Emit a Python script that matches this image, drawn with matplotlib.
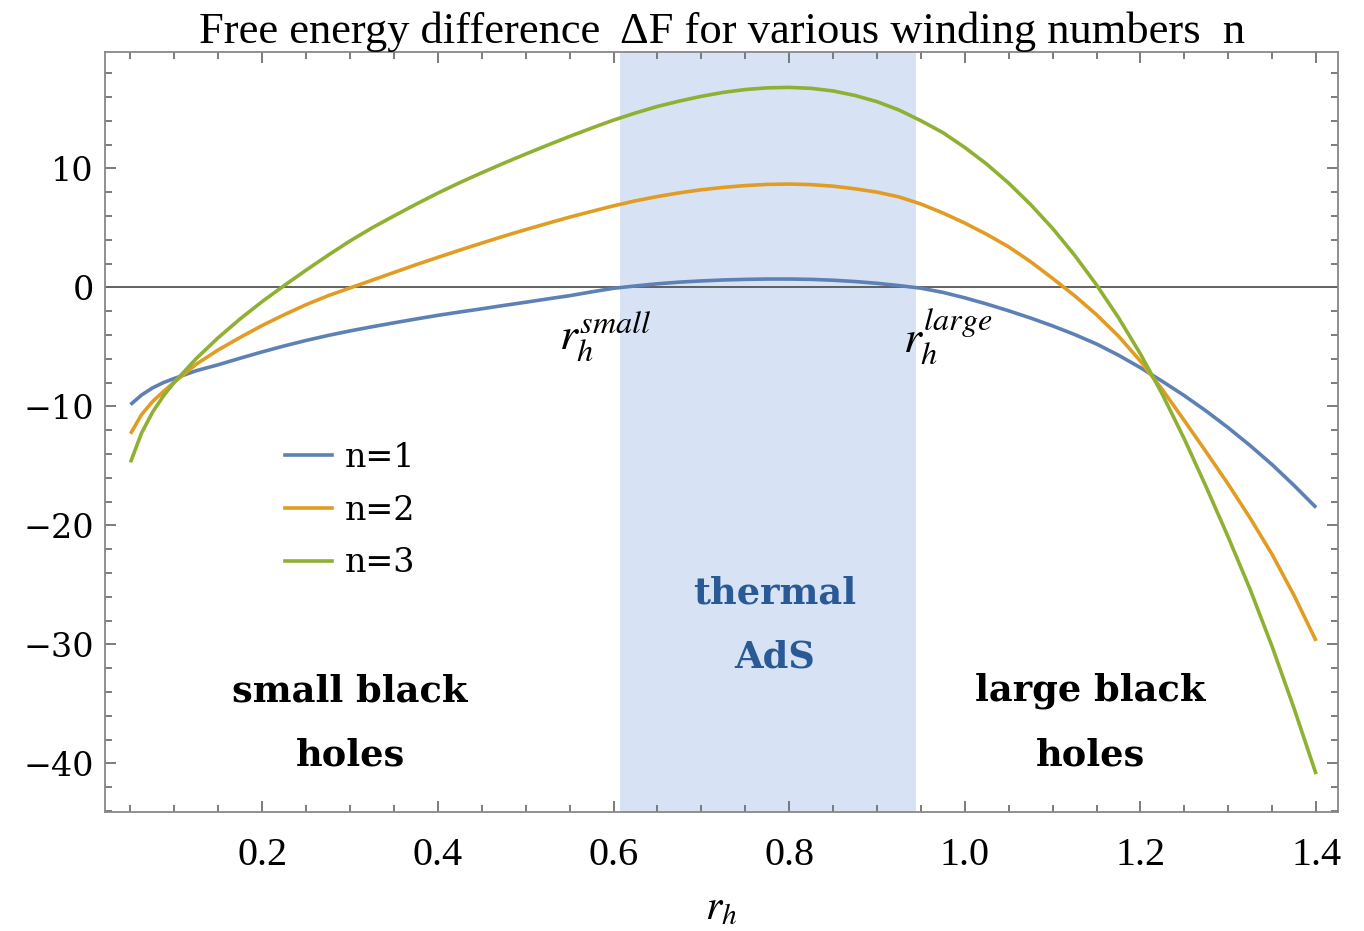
import matplotlib
matplotlib.use("Agg")
import matplotlib.pyplot as plt
from matplotlib.ticker import MultipleLocator
from matplotlib.lines import Line2D

# values
r_h = [0.05, 0.0625, 0.075, 0.0875, 0.10, 0.125, 0.15, 0.175, 0.20, 0.225,
       0.25, 0.275, 0.30, 0.325, 0.35, 0.375, 0.40, 0.425, 0.45, 0.475,
       0.50, 0.525, 0.55, 0.575, 0.60, 0.625, 0.65, 0.675, 0.70, 0.725,
       0.75, 0.775, 0.80, 0.825, 0.85, 0.875, 0.90, 0.925, 0.95, 0.975,
       1.00, 1.025, 1.05, 1.075, 1.10, 1.125, 1.15, 1.175, 1.20, 1.225,
       1.25, 1.275, 1.30, 1.325, 1.35, 1.375, 1.40]
dF_n1 = [-9.85, -9.05, -8.45, -8.0, -7.65, -7.0, -6.5, -5.95, -5.42, -4.92,
         -4.46, -4.04, -3.66, -3.31, -2.98, -2.66, -2.35, -2.07, -1.8, -1.52,
         -1.25, -0.97, -0.7, -0.38, -0.08, 0.12, 0.3, 0.44, 0.54, 0.62,
         0.67, 0.7, 0.7, 0.67, 0.6, 0.49, 0.34, 0.15, -0.07, -0.42,
         -0.88, -1.4, -1.97, -2.58, -3.24, -3.96, -4.76, -5.7, -6.75, -7.9,
         -9.1, -10.4, -11.8, -13.3, -14.9, -16.65, -18.5]
dF_n2 = [-12.3, -10.7, -9.6, -8.75, -7.95, -6.45, -5.25, -4.2, -3.2, -2.3,
         -1.45, -0.7, -0.05, 0.6, 1.25, 1.9, 2.52, 3.13, 3.72, 4.3,
         4.85, 5.38, 5.9, 6.38, 6.85, 7.27, 7.63, 7.94, 8.2, 8.4,
         8.55, 8.65, 8.68, 8.63, 8.5, 8.28, 8.0, 7.6, 7.0, 6.25,
         5.4, 4.45, 3.4, 2.15, 0.75, -0.7, -2.3, -4.1, -6.2, -8.6,
         -11.2, -13.85, -16.55, -19.4, -22.45, -25.9, -29.7]
dF_n3 = [-14.7, -12.25, -10.5, -9.12, -7.97, -5.97, -4.22, -2.64, -1.19, 0.15,
         1.45, 2.7, 3.9, 5.0, 6.0, 6.98, 7.92, 8.8, 9.63, 10.43,
         11.2, 11.95, 12.68, 13.38, 14.05, 14.65, 15.2, 15.65, 16.05, 16.38,
         16.62, 16.76, 16.8, 16.72, 16.5, 16.12, 15.6, 14.9, 14.0, 13.0,
         11.75, 10.35, 8.75, 6.95, 4.95, 2.7, 0.2, -2.55, -5.6, -9.0,
         -12.75, -16.8, -21.0, -25.4, -30.2, -35.4, -40.9]
labels = ["n=1", "n=2", "n=3"]
colors = ["#5E81B5", "#E19C24", "#8FB032"]
r_small, r_large = 0.607, 0.944

plt.rcParams['font.family'] = 'DejaVu Serif'
plt.rcParams['mathtext.fontset'] = 'stix'

fig = plt.figure(figsize=(13.64, 9.31), dpi=100)
ax = fig.add_axes([0.077, 0.1275, 0.904, 0.8170])

ax.axvspan(r_small, r_large, color='#D7E3F4', lw=0, zorder=0)
ax.axhline(0, color='#555555', lw=1.3, zorder=1)

for ys, c in zip([dF_n1, dF_n2, dF_n3], colors):
    ax.plot(r_h, ys, color=c, lw=2.6, solid_capstyle='butt', zorder=3)

ax.set_xlim(0.021, 1.425)
ax.set_ylim(-44.1, 19.8)

ax.xaxis.set_major_locator(MultipleLocator(0.2))
ax.xaxis.set_minor_locator(MultipleLocator(0.05))
ax.yaxis.set_major_locator(MultipleLocator(10))
ax.yaxis.set_minor_locator(MultipleLocator(2))
ax.tick_params(which='both', direction='in', top=True, right=True, color='#666666', width=1.2)
ax.tick_params(which='major', length=8)
ax.tick_params(which='minor', length=5)
ax.tick_params(axis='x', which='major', pad=18)
ax.tick_params(axis='y', which='major', pad=8, labelsize=24)
ax.set_xticks([0.2, 0.4, 0.6, 0.8, 1.0, 1.2, 1.4])
ax.set_xticklabels(["0.2", "0.4", "0.6", "0.8", "1.0", "1.2", "1.4"],
                   family='Liberation Serif', fontsize=29)
for s in ax.spines.values():
    s.set_color('#888888')
    s.set_linewidth(1.3)

ax.set_title("Free energy difference  \u0394F for various winding numbers  n",
             family='Liberation Serif', fontsize=32, pad=5)
ax.set_xlabel(r'$r_h$', fontsize=30, labelpad=9)

ax.text(0.59, -4.2, r'$r_h^{small}$', fontsize=33, ha='center', va='center')
ax.text(0.98, -4.2, r'$r_h^{large}$', fontsize=33, ha='center', va='center')

ax.text(0.784, -28.4, "thermal\nAdS", color='#2A5A96', fontsize=26.5, weight='bold',
        ha='center', va='center', linespacing=2.0)
ax.text(0.30, -36.6, "small black\nholes", fontsize=26.5, weight='bold',
        ha='center', va='center', linespacing=2.0)
ax.text(1.143, -36.6, "large black\nholes", fontsize=26.5, weight='bold',
        ha='center', va='center', linespacing=2.0)

handles = [Line2D([], [], color=c, lw=2.6) for c in colors]
ax.legend(handles, labels, loc='upper left', bbox_to_anchor=(0.146, 0.487),
          frameon=False, fontsize=24, handlelength=1.4, handletextpad=0.4,
          labelspacing=0.62, borderpad=0, borderaxespad=0)

fig.savefig("out.png", dpi=100, facecolor='white')
